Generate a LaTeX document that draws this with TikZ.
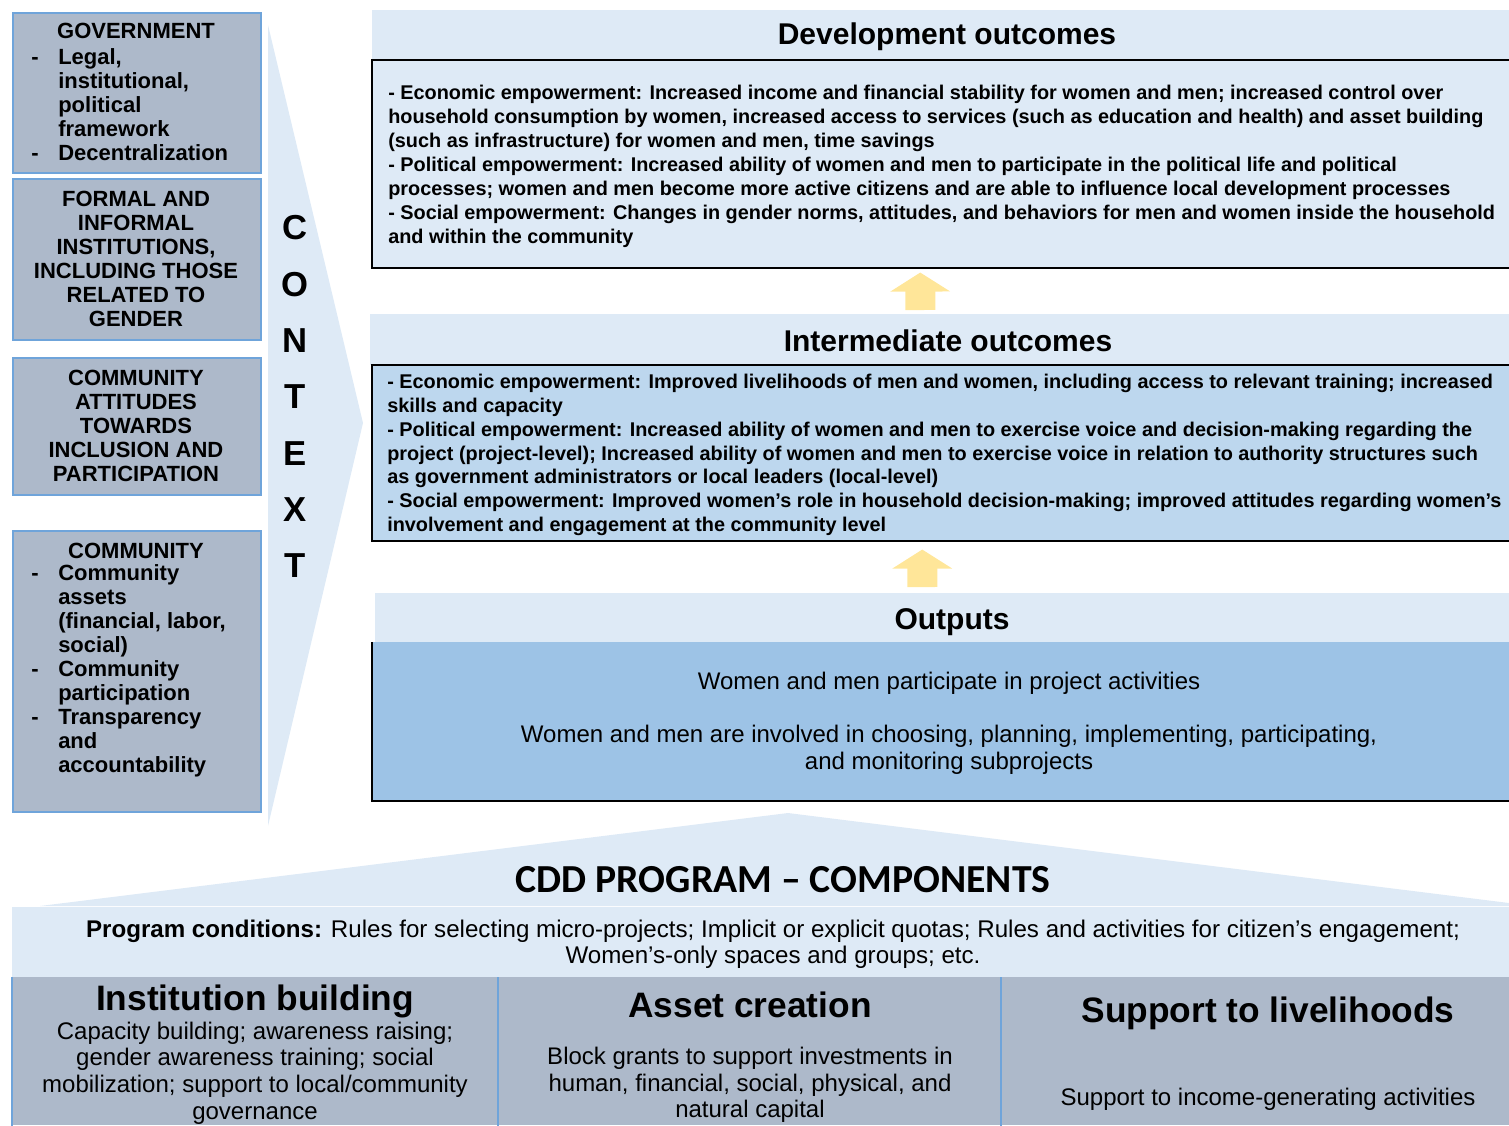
\documentclass[tikz,border=0pt]{standalone}
\usepackage{fontspec}
\setmainfont{Liberation Sans}
\newfontfamily\cddfont{Carlito}
\usetikzlibrary{arrows.meta,calc}

\definecolor{ctxgray}{RGB}{173,185,202}
\definecolor{ctxline}{RGB}{111,164,218}
\definecolor{paleblue}{RGB}{222,234,246}
\definecolor{midblue}{RGB}{189,215,238}
\definecolor{outblue}{RGB}{157,195,230}
\definecolor{arrowyellow}{RGB}{255,230,153}

\newcommand\ctxdash{\makebox[20.25pt][l]{-}}
\newcommand\ctxgap{\hspace*{20.25pt}}

\tikzset{
	ctxbox/.style={draw=ctxline, line width=1.2pt, fill=ctxgray, anchor=north west, minimum width=186pt, inner sep=0pt},
	ctxtxt/.style={inner sep=0pt, align=center, font=\fontsize{16.5}{18}\selectfont\bfseries},
	ctxletter/.style={inner sep=0pt, font=\fontsize{26}{28}\selectfont\bfseries},
	hdrband/.style={fill=paleblue, anchor=north west, inner sep=0pt},
	hdrtxt/.style={inner sep=0pt, font=\fontsize{22.5}{26}\selectfont\bfseries},
	outcomebox/.style={anchor=north west, inner sep=0pt, minimum width=852.75pt},
	bodytxt/.style={inner sep=0pt, anchor=west, align=left},
	boxline/.style={draw=black, line width=1.5pt},
	uparrow/.style={draw=arrowyellow, line width=22.5pt, -{Triangle[width=44.25pt,length=14.25pt]}},
	compbox/.style={fill=ctxgray, anchor=north west, inner sep=0pt, minimum height=111pt},
	comptitle/.style={inner sep=0pt, font=\fontsize{26.5}{30}\selectfont\bfseries},
	comptxt/.style={inner sep=0pt, align=center, font=\fontsize{18}{19.9}\selectfont}
}

\begin{document}
\begin{tikzpicture}[x=0.75pt,y=0.75pt,yscale=-1]
	\useasboundingbox (0,0) rectangle (1509,1125);

	% context wedge
	\fill[paleblue] (268,25) -- (363,423) -- (268,826) -- cycle;
	\foreach \ch [count=\i from 0] in {C,O,N,T,E,X,T}
		\node[ctxletter] (ctx\i) at (295,{228+56.3*\i}) {\ch};

	% context boxes
	\node[ctxbox, minimum height=120pt] (govbox) at (12,12) {};
	\node[ctxtxt] (govtitle) at (136,31) {GOVERNMENT};
	\node[ctxtxt, anchor=west, align=left] (govlist) at (31,105) {\ctxdash Legal,\\ \ctxgap institutional,\\ \ctxgap political\\ \ctxgap framework\\ \ctxdash Decentralization};

	\node[ctxbox, minimum height=120.75pt] (instnbox) at (12,178) {};
	\node[ctxtxt] (instntxt) at (136,259) {FORMAL AND\\ INFORMAL\\ INSTITUTIONS,\\ INCLUDING THOSE\\ RELATED TO\\ GENDER};

	\node[ctxbox, minimum height=102.75pt] (attbox) at (12,357) {};
	\node[ctxtxt] (atttxt) at (136,426) {COMMUNITY\\ ATTITUDES\\ TOWARDS\\ INCLUSION AND\\ PARTICIPATION};

	\node[ctxbox, minimum height=210.75pt] (commbox) at (12,530) {};
	\node[ctxtxt] (commtitle) at (136,551) {COMMUNITY};
	\node[ctxtxt, anchor=west, align=left] (commlist) at (31,671) {\ctxdash Community\\ \ctxgap assets\\ \ctxgap (financial, labor,\\ \ctxgap social)\\ \ctxdash Community\\ \ctxgap participation\\ \ctxdash Transparency\\ \ctxgap and\\ \ctxgap accountability};

	% development outcomes
	\node[hdrband, minimum width=852.75pt, minimum height=37.5pt] (devhdr) at (372,10) {};
	\node[hdrtxt] (devtitle) at (947,37) {Development outcomes};
	\node[outcomebox, fill=paleblue, minimum height=155.25pt] (devbox) at (372,60) {};
	\draw[boxline] (devbox.north east) -- (devbox.north west) -- (devbox.south west) -- (devbox.south east);
	\node[bodytxt, font=\fontsize{14.9}{18}\selectfont\bfseries] (devtxt) at (388,166) {- Economic empowerment: Increased income and financial stability for women and men; increased control over\\ household consumption by women, increased access to services (such as education and health) and asset building\\ (such as infrastructure) for women and men, time savings\\ - Political empowerment: Increased ability of women and men to participate in the political life and political\\ processes; women and men become more active citizens and are able to influence local development processes\\ - Social empowerment: Changes in gender norms, attitudes, and behaviors for men and women inside the household\\ and within the community};

	% intermediate outcomes
	\node[hdrband, minimum width=854.25pt, minimum height=38.25pt] (inthdr) at (370,314) {};
	\node[hdrtxt] (inttitle) at (948,341) {Intermediate outcomes};
	\node[outcomebox, fill=midblue, minimum height=131.25pt] (intbox) at (372,365) {};
	\draw[boxline] (intbox.north east) -- (intbox.north west) -- (intbox.south west) -- (intbox.south east);
	\node[bodytxt, font=\fontsize{14.9}{17.8}\selectfont\bfseries] (inttxt) at (387,455) {- Economic empowerment: Improved livelihoods of men and women, including access to relevant training; increased\\ skills and capacity\\ - Political empowerment: Increased ability of women and men to exercise voice and decision-making regarding the\\ project (project-level); Increased ability of women and men to exercise voice in relation to authority structures such\\ as government administrators or local leaders (local-level)\\ - Social empowerment: Improved women’s role in household decision-making; improved attitudes regarding women’s\\ involvement and engagement at the community level};

	% outputs
	\node[hdrband, minimum width=850.5pt, minimum height=36.75pt] (outhdr) at (375,593) {};
	\node[hdrtxt] (outtitle) at (952,622) {Outputs};
	\node[outcomebox, fill=outblue, minimum height=118.5pt] (outbox) at (372,642) {};
	\draw[boxline] (outbox.north west) -- (outbox.south west) -- (outbox.south east);
	\node[comptxt] (outtxt) at (949,723) {Women and men participate in project activities\\[20.25pt] Women and men are involved in choosing, planning, implementing, participating,\\ and monitoring subprojects};

	% arrows between levels
	\draw[uparrow] ([xshift=-14.6pt,yshift=-3pt]inthdr.north) -- ([xshift=-15.4pt,yshift=3.75pt]devbox.south);
	\draw[uparrow] ([xshift=-15pt,yshift=-4.5pt]outhdr.north) -- ([xshift=-13.9pt,yshift=6.75pt]intbox.south);

	% CDD program components
	\fill[paleblue] (40,906) -- (788,813) -- (1509,903) -- (1509,906) -- cycle;
	\node[inner sep=0pt, font=\cddfont\fontsize{29.8}{34}\selectfont\bfseries] (cddtitle) at (783,880) {CDD PROGRAM – COMPONENTS};
	\node[hdrband, minimum width=1122.75pt, minimum height=52.5pt] (condband) at (12,907) {};
	\node[comptxt, font=\fontsize{18.1}{19.5}\selectfont] (condtxt) at (773,944) {\textbf{Program conditions:} Rules for selecting micro-projects; Implicit or explicit quotas; Rules and activities for citizen’s engagement;\\ Women’s-only spaces and groups; etc.};

	\node[compbox, minimum width=364.5pt] (instbox) at (12,977) {};
	\node[compbox, minimum width=377.25pt] (assetbox) at (498,977) {};
	\node[compbox, minimum width=381pt] (livebox) at (1001,977) {};
	\draw[ctxline, line width=1pt] (instbox.north west) -- (instbox.south west);
	\draw[ctxline, line width=1pt] (assetbox.north west) -- (assetbox.south west);
	\draw[ctxline, line width=1pt] (livebox.north west) -- (livebox.south west);

	\node[comptitle] (insttitle) at (255,1001) {Institution building};
	\node[comptxt] (insttxt) at (255,1073) {Capacity building; awareness raising;\\ gender awareness training; social\\ mobilization; support to local/community\\ governance};
	\node[comptitle] (assettitle) at (750,1005) {Asset creation};
	\node[comptxt] (assettxt) at (750,1085) {Block grants to support investments in\\ human, financial, social, physical, and\\ natural capital};
	\node[comptitle] (livetitle) at (1268,1013) {Support to livelihoods};
	\node[comptxt] (livetxt) at (1268,1099) {Support to income-generating activities};

\end{tikzpicture}
\end{document}
